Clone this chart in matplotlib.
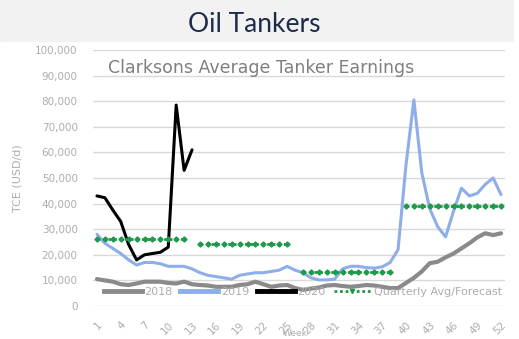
import matplotlib
matplotlib.use("Agg")
import matplotlib.pyplot as plt
from matplotlib.patches import Rectangle
from matplotlib.lines import Line2D

weeks = list(range(1, 53))

earn_2018 = [10500, 10000, 9500, 8500, 8200, 8800, 9500, 9500, 9500, 9000,
             8800, 9500, 8500, 8200, 8000, 7500, 7500, 7500, 8200, 8500,
             9500, 8500, 7500, 8000, 8200, 7000, 6300, 6800, 7200, 8000,
             8200, 7800, 7500, 7800, 8200, 8000, 7500, 7000, 7000, 9000,
             11000, 13500, 16700, 17300, 19000, 20500, 22500, 24500, 26800, 28400,
             27700, 28400]

earn_2019 = [28000, 24500, 22500, 20500, 18000, 16000, 17000, 17000, 16500, 15500,
             15500, 15500, 14500, 13000, 12000, 11500, 11000, 10500, 12000, 12500,
             13000, 13000, 13500, 14000, 15500, 14000, 13000, 11000, 10200, 10200,
             10500, 14500, 15500, 15500, 15000, 14800, 15300, 17000, 22000, 55000,
             80500, 52000, 38000, 31000, 27000, 37000, 46000, 43000, 44000, 47500,
             50000, 43500]

weeks_2020 = list(range(1, 14))
earn_2020 = [43000, 42300, 37500, 33000, 24000, 18000, 20000, 20500, 21000, 23000,
             78500, 53000, 61000]

q_labels = ["Q1", "Q2", "Q3", "Q4"]
q_start = [1, 14, 27, 40]
q_end = [12, 25, 38, 52]
q_value = [26000, 24200, 13400, 39000]

xtick_weeks = list(range(1, 53, 3))
yticks = list(range(0, 100001, 10000))

GRAY_TXT = "#adadad"
C2018 = "#8a8a8a"
C2019 = "#8eaeea"
C2020 = "#000000"
CQ = "#1e9a4c"

fig = plt.figure(figsize=(5.19, 3.39), dpi=100)
fig.patches.append(Rectangle((0, 1 - 41 / 339), 513 / 519, 41 / 339,
                             transform=fig.transFigure, color="#f2f2f2", zorder=0))
fig.text(254 / 519, 1 - 24 / 339, "Oil Tankers", ha="center", va="center",
         fontsize=19, color="#1d2b4a", family="Lato")

ax = fig.add_axes([93 / 519, 1 - 306 / 339, (505 - 93) / 519, (306 - 50) / 339])
ax.set_xlim(0.5, 52.5)
ax.set_ylim(0, 100000)
ax.set_yticks(yticks)
ax.set_yticklabels([f"{v:,}" for v in yticks])
ax.set_xticks(xtick_weeks)
ax.set_xticklabels([str(w) for w in xtick_weeks], rotation=45, ha="right",
                   rotation_mode="anchor")
ax.tick_params(axis="both", length=0, colors=GRAY_TXT, labelsize=7.5)
ax.tick_params(axis="x", pad=10)
ax.tick_params(axis="y", pad=11)
ax.grid(axis="y", color="#d9d9d9", linewidth=1)
ax.set_axisbelow(True)
for s in ax.spines.values():
    s.set_visible(False)
ax.set_ylabel("TCE (USD/d)", color=GRAY_TXT, fontsize=8, labelpad=9)

ax.plot(weeks, earn_2018, color=C2018, linewidth=3, solid_capstyle="round", zorder=3)
ax.plot(weeks, earn_2019, color=C2019, linewidth=2.2, solid_capstyle="round", zorder=4)
ax.plot(weeks_2020, earn_2020, color=C2020, linewidth=2.2, solid_capstyle="round", zorder=5)
for s, e, v in zip(q_start, q_end, q_value):
    ax.plot([s, e], [v, v], color=CQ, linestyle=(0, (1, 1)), linewidth=2, zorder=6)
    ax.plot(list(range(s, e + 1)), [v] * (e - s + 1), linestyle="none", marker="D",
            markersize=2.6, color=CQ, zorder=6)

fig.text(108 / 519, 1 - 68 / 339, "Clarksons Average Tanker Earnings", ha="left",
         va="center", fontsize=12.5, color="#7f7f7f", family="DejaVu Sans")

handles = [
    Line2D([], [], color=C2018, linewidth=3.5),
    Line2D([], [], color=C2019, linewidth=3.5),
    Line2D([], [], color=C2020, linewidth=3.5),
    Line2D([], [], color=CQ, linestyle=(0, (1, 1)), linewidth=2, marker="v", markersize=3),
]
leg = ax.legend(handles, ["2018", "2019", "2020", "Quarterly Avg/Forecast"], ncol=4,
                frameon=False, loc="center", bbox_to_anchor=(303 / 519, 1 - 292 / 339),
                bbox_transform=fig.transFigure, fontsize=8, handlelength=3.4,
                handletextpad=0.25, columnspacing=0.7, labelcolor=GRAY_TXT)

fig.text(295 / 519, 1 / 339, "Week", ha="center", va="bottom", fontsize=6.5, color=GRAY_TXT)

fig.savefig("out.png", dpi=100)
